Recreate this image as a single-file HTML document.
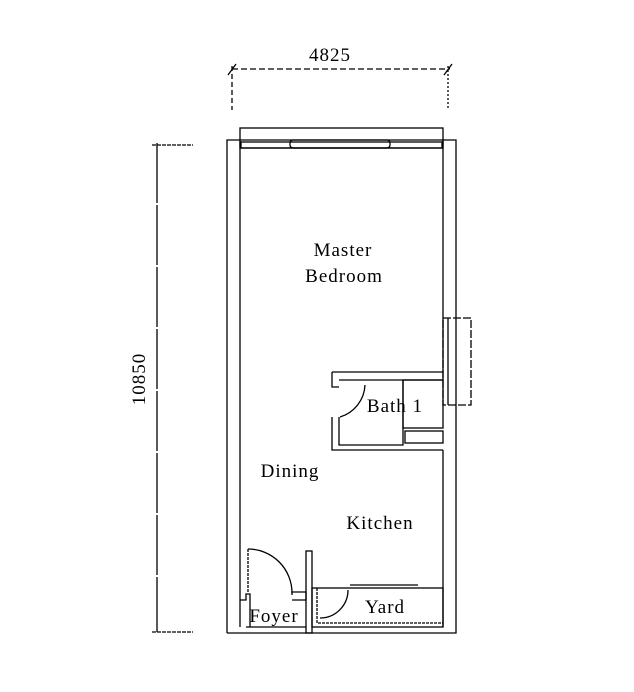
<!DOCTYPE html>
<html><head><style>html,body{margin:0;padding:0;background:#fff}svg{display:block}</style></head>
<body>
<svg width="634" height="692" viewBox="0 0 634 692" xmlns="http://www.w3.org/2000/svg" font-family="'Liberation Serif',serif" fill="none" stroke="#000" stroke-width="1.3">
<line x1="232" y1="69" x2="450" y2="69" stroke-dasharray="6,3"/>
<line x1="232" y1="66" x2="232" y2="110" stroke-dasharray="5,3"/>
<line x1="448" y1="66" x2="448" y2="110" stroke-dasharray="2,2"/>
<line x1="228" y1="75" x2="236" y2="64"/>
<line x1="444" y1="75" x2="452" y2="64"/>
<text x="330" y="61" font-size="19" letter-spacing="1" fill="#000" stroke="none" text-anchor="middle">4825</text>
<line x1="152" y1="145" x2="193" y2="145" stroke-dasharray="4,1"/>
<line x1="157" y1="143" x2="157" y2="632" stroke-dasharray="60,2"/>
<line x1="152" y1="632" x2="193" y2="632" stroke-dasharray="4,1"/>
<text x="0" y="0" font-size="19" letter-spacing="1" fill="#000" stroke="none" text-anchor="middle" transform="translate(145,379) rotate(-90)">10850</text>
<rect x="240" y="128" width="203" height="20"/>
<polyline points="227,633 227,140 456,140 456,633 227,633"/>
<line x1="240" y1="140" x2="240" y2="627"/>
<line x1="443" y1="140" x2="443" y2="372"/>
<rect x="241" y="142" width="201" height="6"/>
<rect x="290" y="140" width="100" height="8" rx="3"/>
<rect x="443" y="318" width="28" height="87" stroke-dasharray="8,2"/>
<line x1="448" y1="318" x2="448" y2="405"/>
<polyline points="332,372 443,372 443,380 339,380"/>
<polyline points="332,372 332,387 339,387"/>
<polyline points="332,417 332,450 443,450"/>
<polyline points="339,417 339,445 403,445 403,380"/>
<rect x="403" y="380" width="40" height="48"/>
<rect x="405" y="431" width="38" height="12"/>
<path d="M340,417 A35,35 0 0 0 365,385" />
<line x1="443" y1="450" x2="443" y2="627"/>
<rect x="312" y="588" width="131" height="39"/>
<polyline points="317,588 317,623 443,623" stroke-dasharray="3,1"/>
<path d="M320,618 A28,28 0 0 0 348,590"/>
<line x1="350" y1="585" x2="418" y2="585"/>
<rect x="306" y="551" width="6" height="82"/>
<polyline points="240,600 246,600 246,594 250,594 250,627"/>
<polyline points="292,595 292,592 306,592 306,600 292,600"/>
<line x1="246" y1="627" x2="306" y2="627"/>
<path d="M248,549 A44,44 0 0 1 292,593"/>
<line x1="248" y1="549" x2="248" y2="593" stroke-dasharray="3,1"/>
<g fill="#000" stroke="none" font-size="19" letter-spacing="1" text-anchor="middle">
<text x="343" y="256">Master</text>
<text x="344" y="282">Bedroom</text>
<text x="395" y="412">Bath 1</text>
<text x="290" y="477">Dining</text>
<text x="380" y="529">Kitchen</text>
<text x="274" y="622">Foyer</text>
<text x="385" y="613">Yard</text>
</g>
</svg>
</body></html>
